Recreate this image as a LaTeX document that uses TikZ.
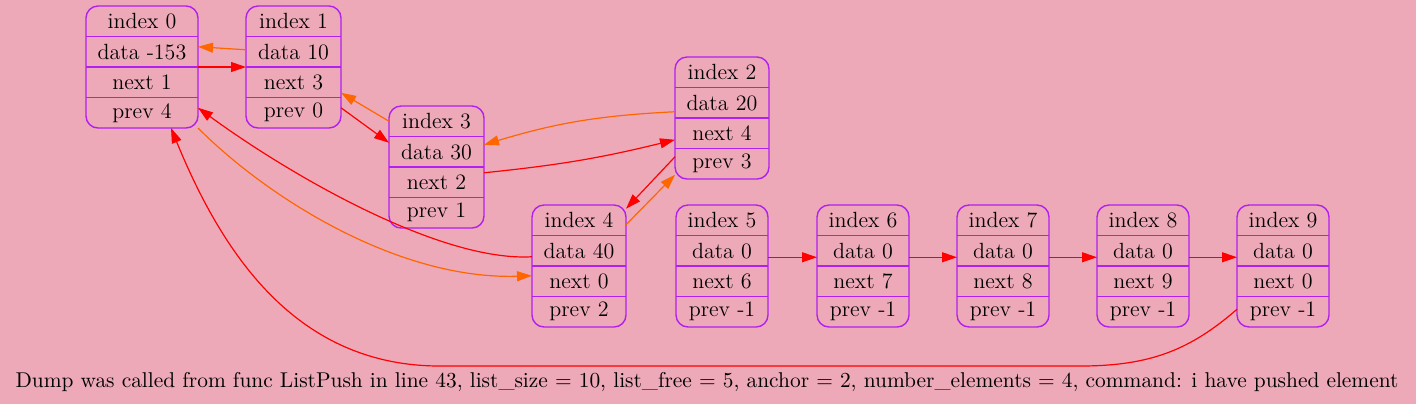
\documentclass[tikz,border=0pt]{standalone}
\usepackage{xcolor}
\usepackage{tikz}
\usetikzlibrary{positioning,arrows.meta}

\definecolor{dumpbg}{HTML}{EEA9B8}
\definecolor{elemborder}{HTML}{B020F0}
\definecolor{nextcol}{HTML}{FF0000}
\definecolor{prevcol}{HTML}{FF6600}

\tikzset{
	elembox/.style={draw=elemborder, line width=0.7pt, rounded corners=6pt, minimum height=61pt, inner sep=0pt, outer sep=0pt, anchor=north},
	elemrow/.style={minimum height=15.25pt, inner sep=0pt, outer sep=0pt, font=\fontsize{11}{13}\selectfont},
	elemsplit/.style={draw=elemborder, line width=0.6pt},
	nextedge/.style={draw=nextcol, line width=0.6pt, -{Triangle[length=7.5pt,width=5pt]}},
	prevedge/.style={draw=prevcol, line width=0.6pt, -{Triangle[length=7.5pt,width=5pt]}},
}

\begin{document}
\begin{tikzpicture}[x=0.5pt,y=-0.5pt]
		\fill[dumpbg] (0,0) rectangle (1416,404);
		\useasboundingbox (0,0) rectangle (1416,404);
		%
		\foreach \idx/\x/\ty/\bw/\dat/\nxt/\prv in {0/142/6/112/-153/1/4, 1/293.5/6/95/10/3/0, 2/722/57/94/20/4/3, 3/436.5/106/95/30/2/1, 4/579/205/94/40/0/2, 5/722/205/92/0/6/-1, 6/863/205/92/0/7/-1, 7/1003/205/92/0/8/-1, 8/1143/205/92/0/9/-1, 9/1283/205/92/0/0/-1}
		{
		\node[elembox, minimum width={\bw*0.5pt}] (b\idx) at (\x,\ty) {};
		\node[elemrow, minimum width={\bw*0.5pt}, anchor=north] (i\idx) at (b\idx.north) {index \idx};
		\node[elemrow, minimum width={\bw*0.5pt}, below=0pt of i\idx] (d\idx) {data \dat};
		\node[elemrow, minimum width={\bw*0.5pt}, below=0pt of d\idx] (n\idx) {next \nxt};
		\node[elemrow, minimum width={\bw*0.5pt}, below=0pt of n\idx] (p\idx) {prev \prv};
		\draw[elemsplit] (d\idx.north west) -- (d\idx.north east)
			(n\idx.north west) -- (n\idx.north east)
			(p\idx.north west) -- (p\idx.north east);
		}
		%
		\coordinate (loopR) at (1080,366);
		\coordinate (loopL) at (440,366);
		%
		\draw[prevedge] ([yshift=1pt]d1.west) -- ([yshift=2.5pt]d0.east);
		\draw[nextedge] (n0.north east) -- (n1.north west);
		\draw[prevedge] (i3.west) -- ([yshift=-5.25pt]n1.east);
		\draw[nextedge] ([yshift=2.5pt]p1.east) -- ([yshift=4.5pt]d3.west);
		\draw[prevedge] ([yshift=-4.5pt]d2.west) to[bend right=7] ([yshift=3.5pt]d3.east);
		\draw[nextedge] ([yshift=4.75pt]n3.east) to[bend right=4] ([yshift=-3.25pt]n2.west);
		\draw[nextedge] ([yshift=3.5pt]p2.west) -- ([yshift=5.75pt]i4.east);
		\draw[prevedge] ([yshift=-2.25pt]i4.east) -- ([yshift=-5.5pt]p2.west);
		\draw[nextedge] ([yshift=-3pt]d4.west) .. controls (440,262) and (290,175) .. ([yshift=2.5pt]p0.east);
		\draw[prevedge] (p0.south east) .. controls (270,200) and (400,280) .. ([yshift=2.75pt]n4.west);
		\draw[nextedge] ([yshift=1.25pt]p9.west) .. controls (1190,350) and (1150,366) .. (loopR) -- (loopL) .. controls (300,366) and (225,260) .. ([xshift=14.5pt]p0.south);
		\foreach \a/\b in {5/6,6/7,7/8,8/9}
			\draw[nextedge] ([yshift=-3.25pt]d\a.east) -- ([yshift=-3.25pt]d\b.west);
		%
		\node[font=\fontsize{10.7}{12}\selectfont] (caption) at (707,382) {Dump was called from func ListPush in line 43, list\_size = 10, list\_free = 5, anchor = 2, number\_elements = 4, command: i have pushed element};
\end{tikzpicture}
\end{document}
